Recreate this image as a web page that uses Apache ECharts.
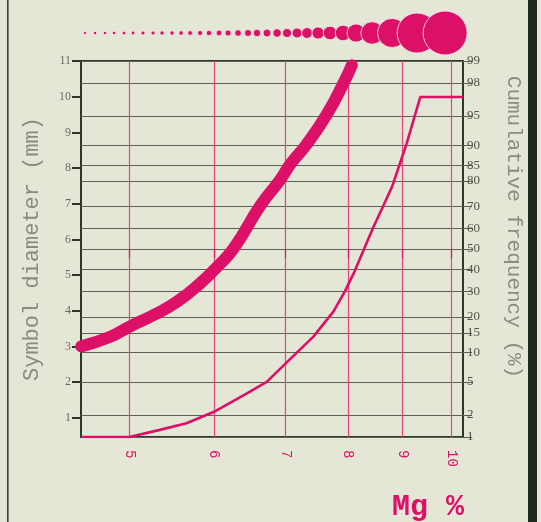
<!DOCTYPE html>
<html>
<head>
<meta charset="utf-8">
<script src="https://cdn.jsdelivr.net/npm/echarts@6/dist/echarts.min.js"></script>
<style>
html,body{margin:0;padding:0;background:#e4e6d6;}
#chart{width:541px;height:522px;}
</style>
</head>
<body>
<div id="chart"></div>
<script>
// ---- data ----
// x axis ticks (Mg %)
var mgTicks = [5, 6, 7, 8, 9, 10];
// left axis ticks (symbol diameter, mm)
var diamTicks = [1, 2, 3, 4, 5, 6, 7, 8, 9, 10, 11];
// right axis ticks (cumulative frequency, %)
var pctTicks = [1, 2, 5, 10, 15, 20, 30, 40, 50, 60, 70, 80, 85, 90, 95, 98, 99];

// thick curve: symbol diameter vs Mg %
var bandMg   = [4.51, 4.8, 5.0, 5.27, 5.54, 5.82, 6.04, 6.26, 6.63, 6.92, 7.07, 7.32, 7.65, 7.93, 8.07];
var bandDiam = [3.0, 3.27, 3.55, 3.88, 4.25, 4.76, 5.23, 5.75, 6.95, 7.68, 8.11, 8.66, 9.51, 10.39, 10.88];

// thin curve: cumulative frequency vs Mg %
var cumMg  = [4.507, 5.0, 5.34, 5.655, 6.0, 6.44, 6.72, 7.0, 7.43, 7.756, 7.95, 8.1, 8.27, 8.45, 8.64, 8.8, 8.95, 9.08, 9.35, 10.25];
var cumPct = [1, 1, 1.26, 1.55, 2.2, 3.7, 5.0, 7.85, 13.9, 21.9, 30, 38, 49, 60.5, 70.6, 78, 85.5, 90.4, 97, 97];

// symbol-size strip at the top: Mg position and symbol diameter (mm)
var dotMg = [4.546, 4.645, 4.746, 4.839, 4.944, 5.041, 5.150, 5.262, 5.365, 5.482, 5.589, 5.699, 5.823, 5.935, 6.065, 6.184,
             6.318, 6.455, 6.581, 6.724, 6.871, 7.020, 7.173, 7.329, 7.504, 7.700, 7.919, 8.144, 8.429, 8.800, 9.287, 9.863];
var dotMm = [0.8, 0.85, 0.88, 0.9, 0.93, 0.96, 1.0, 1.03, 1.07, 1.1, 1.15, 1.2, 1.27, 1.35, 1.45, 1.53,
             1.65, 1.77, 1.86, 1.97, 2.1, 2.27, 2.47, 2.72, 3.02, 3.4, 3.9, 4.55, 5.6, 7.3, 10, 11];

// ---- probability scale (normal quantile) ----
function normInv(p) {
  var a=[-3.969683028665376e+01,2.209460984245205e+02,-2.759285104469687e+02,1.383577518672690e+02,-3.066479806614716e+01,2.506628277459239e+00];
  var b=[-5.447609879822406e+01,1.615858368580409e+02,-1.556989798598866e+02,6.680131188771972e+01,-1.328068155288572e+01];
  var c=[-7.784894002430293e-03,-3.223964580411365e-01,-2.400758277161838e+00,-2.549732539343734e+00,4.374664141464968e+00,2.938163982698783e+00];
  var d=[7.784695709041462e-03,3.224671290700398e-01,2.445134137142996e+00,3.754408661907416e+00];
  var pl=0.02425, ph=1-pl, q, r;
  if (p < pl) { q=Math.sqrt(-2*Math.log(p)); return (((((c[0]*q+c[1])*q+c[2])*q+c[3])*q+c[4])*q+c[5])/((((d[0]*q+d[1])*q+d[2])*q+d[3])*q+1); }
  if (p <= ph) { q=p-0.5; r=q*q; return (((((a[0]*r+a[1])*r+a[2])*r+a[3])*r+a[4])*r+a[5])*q/(((((b[0]*r+b[1])*r+b[2])*r+b[3])*r+b[4])*r+1); }
  q=Math.sqrt(-2*Math.log(1-p)); return -(((((c[0]*q+c[1])*q+c[2])*q+c[3])*q+c[4])*q+c[5])/((((d[0]*q+d[1])*q+d[2])*q+d[3])*q+1);
}
function pz(pct){ return normInv(pct/100); }
var pctZ = pctTicks.map(pz);
var zLo = pz(1), zHi = pz(99);

var PINK = '#dc1067';
var FRAME = '#2c382c';
var PX_PER_MM = 4;

var chart = echarts.init(document.getElementById('chart'), null, {renderer:'canvas'});
chart.setOption({
  backgroundColor: '#e4e6d6',
  animation: false,
  title: {
    text: 'Mg %', left: 387, top: 487,
    textStyle: {color: PINK, fontFamily: 'Liberation Mono', fontSize: 30, fontWeight: 'bold'}
  },
  graphic: [
    {type:'rect', shape:{x:7, y:0, width:1.6, height:522}, style:{fill:'#3a443a'}},
    {type:'rect', shape:{x:528, y:0, width:9, height:522}, style:{fill:'#1f2a1f'}}
  ],
  grid: [
    {left:81, right:78, top:61, bottom:85, show:true, borderColor:FRAME, borderWidth:2, backgroundColor:'transparent', containLabel:false},
    {left:81, right:78, top:2, height:62, show:false}
  ],
  xAxis: [
    {
      type:'log', logBase:10, min:4.507, max:10.25, gridIndex:0,
      axisLine:{show:false},
      axisTick:{show:true, customValues:mgTicks, length:9, lineStyle:{color:PINK, width:1.2}},
      axisLabel:{customValues:mgTicks, rotate:-90, margin:13, color:PINK, fontFamily:'Liberation Mono', fontSize:14,
        formatter:function(v){return String(Math.round(v));}},
      splitLine:{show:true, lineStyle:{color:'#e8457a', width:1.2}},
      minorTick:{show:false}, minorSplitLine:{show:false}
    },
    {
      type:'log', logBase:10, min:4.507, max:10.25, gridIndex:1, show:false
    }
  ],
  yAxis: [
    {
      type:'value', min:0.46, max:11, gridIndex:0, position:'left',
      axisLine:{show:false},
      axisTick:{show:true, customValues:diamTicks, length:9, lineStyle:{color:FRAME, width:2}},
      axisLabel:{customValues:diamTicks, color:'#6a6c64', fontFamily:'Liberation Serif', fontSize:12, margin:10},
      splitLine:{show:false},
      name:'Symbol diameter (mm)', nameLocation:'middle', nameGap:38, nameRotate:90,
      nameTextStyle:{color:'#8a8c84', fontFamily:'Liberation Mono', fontSize:22}
    },
    {
      type:'value', min:zLo, max:zHi, gridIndex:0, position:'right',
      axisLine:{show:false},
      axisTick:{show:true, customValues:pctZ, length:9, lineStyle:{color:'#5a5e55', width:1}},
      axisLabel:{customValues:pctZ, color:'#4f524a', fontFamily:'Liberation Serif', fontSize:13, margin:4,
        formatter:function(v){
          var best=0, bd=1e9;
          for (var i=0;i<pctZ.length;i++){ var dd=Math.abs(pctZ[i]-v); if(dd<bd){bd=dd;best=i;} }
          return String(pctTicks[best]);
        }},
      splitLine:{show:true, lineStyle:{color:'#5d6158', width:1}},
      name:'Cumulative frequency (%)', nameLocation:'middle', nameGap:40, nameRotate:-90,
      nameTextStyle:{color:'#8a8c84', fontFamily:'Liberation Mono', fontSize:21, padding:[0,44,0,0]}
    },
    {type:'value', min:0, max:1, gridIndex:1, show:false}
  ],
  series: [
    {
      type:'line', xAxisIndex:0, yAxisIndex:1, showSymbol:false, smooth:false,
      data: cumMg.map(function(m,i){return [m, pz(cumPct[i])];}),
      lineStyle:{color:PINK, width:2.6}, z:3
    },
    {
      type:'line', xAxisIndex:0, yAxisIndex:0, showSymbol:false, smooth:true,
      data: bandMg.map(function(m,i){return [m, bandDiam[i]];}),
      lineStyle:{color:PINK, width:12, cap:'round', join:'round'}, z:4
    },
    {
      type:'scatter', xAxisIndex:1, yAxisIndex:2, clip:false,
      data: dotMg.map(function(m,i){return [m, 0.5, dotMm[i]];}),
      symbolSize:function(v){return v[2]*PX_PER_MM;},
      itemStyle:{color:PINK, borderColor:'#f2f1e8', borderWidth:0.8, opacity:1}
    }
  ]
});
</script>
</body>
</html>
